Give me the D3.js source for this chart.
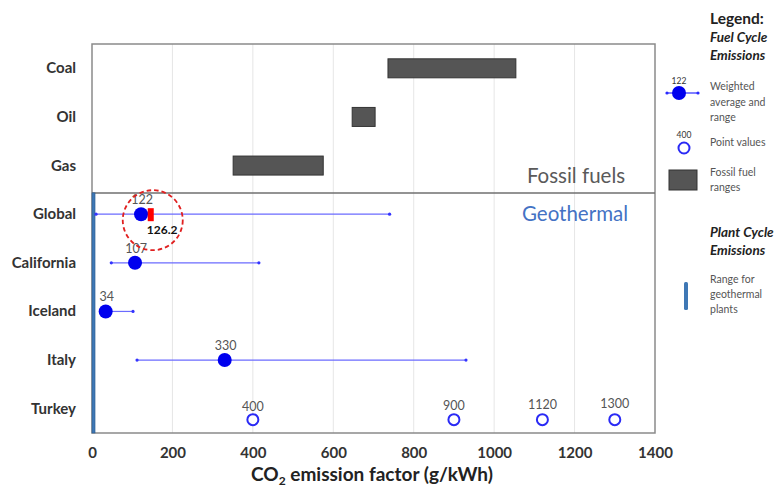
<!DOCTYPE html>
<html>
<head>
<meta charset="utf-8">
<script src="https://cdn.jsdelivr.net/npm/d3@7"></script>
<style>
body { margin: 0; background: #fff; }
svg { font-family: Lato, "Open Sans", sans-serif; }
</style>
</head>
<body>
<svg id="chart" width="775" height="488"></svg>
<script>
const categories = ['Coal', 'Oil', 'Gas', 'Global', 'California', 'Iceland', 'Italy', 'Turkey']
const fossilNames = ['Coal', 'Oil', 'Gas']
const fossilLow = [736, 647, 351]
const fossilHigh = [1054, 704, 575]
const geoNames = ['Global', 'California', 'Iceland', 'Italy']
const geoAvg = [122, 107, 34, 330]
const geoMin = [10, 48, 34, 112]
const geoMax = [740, 415, 102, 930]
const turkeyValues = [400, 900, 1120, 1300]
const xTicks = [0, 200, 400, 600, 800, 1000, 1200, 1400]
const plantRange = [0, 10]
const highlight = 126.2

const svg = d3.select('#chart')
const plotLeft = 92, plotRight = 655, plotTop = 44, plotBottom = 433

const x = d3.scaleLinear().domain([0, 1400]).range([plotLeft, plotRight])
const y = d3.scaleBand().domain(categories).range([plotTop, plotBottom])
const yc = d => y(d) + y.bandwidth() / 2

// grid
svg.append('g')
	.selectAll('line')
	.data(xTicks.slice(1, -1))
	.enter()
	.append('line')
	.attr('x1', d => x(d)).attr('x2', d => x(d))
	.attr('y1', plotTop).attr('y2', plotBottom)
	.attr('stroke', '#e6e6e6')

// frame
svg.append('rect')
	.attr('x', plotLeft).attr('y', plotTop)
	.attr('width', plotRight - plotLeft).attr('height', plotBottom - plotTop)
	.attr('fill', 'none').attr('stroke', '#8a8a8a').attr('stroke-width', 1.5)

// separator between fossil and geothermal
const sepY = y('Global') + 3
svg.append('line')
	.attr('x1', plotLeft).attr('x2', plotRight)
	.attr('y1', sepY).attr('y2', sepY)
	.attr('stroke', '#6f6f6f').attr('stroke-width', 1.5)

// geothermal plant range bar
svg.append('rect')
	.attr('x', x(plantRange[0])).attr('y', sepY)
	.attr('width', x(plantRange[1]) - x(plantRange[0]) - 1)
	.attr('height', plotBottom - sepY)
	.attr('fill', '#3f78b5').attr('stroke', '#2a5a8e').attr('stroke-width', 0.6)

// fossil bars
svg.append('g')
	.selectAll('rect')
	.data(fossilNames)
	.enter()
	.append('rect')
	.attr('x', (d, i) => x(fossilLow[i]))
	.attr('y', d => yc(d) - 9.5)
	.attr('width', (d, i) => x(fossilHigh[i]) - x(fossilLow[i]))
	.attr('height', 19)
	.attr('fill', '#555').attr('stroke', '#333').attr('stroke-width', 1)

// section labels
svg.append('text').attr('x', 576).attr('y', 183).attr('text-anchor', 'middle')
	.attr('font-size', 20.5).attr('fill', '#5a5a5a').text('Fossil fuels')
svg.append('text').attr('x', 575).attr('y', 221).attr('text-anchor', 'middle')
	.attr('font-size', 20.5).attr('fill', '#4472c4').text('Geothermal')

// geothermal ranges
const geo = svg.append('g')
geo.selectAll('line')
	.data(geoNames)
	.enter()
	.append('line')
	.attr('x1', (d, i) => x(geoMin[i])).attr('x2', (d, i) => x(geoMax[i]))
	.attr('y1', d => yc(d)).attr('y2', d => yc(d))
	.attr('stroke', '#6b6bff').attr('stroke-width', 1.2)
geo.selectAll('circle.end')
	.data(geoNames.flatMap((d, i) => [[d, geoMin[i]], [d, geoMax[i]]]))
	.enter()
	.append('circle')
	.attr('class', 'end')
	.attr('cx', d => x(d[1])).attr('cy', d => yc(d[0]))
	.attr('r', 1.6).attr('fill', '#3434ff')

// red highlight mark
svg.append('rect')
	.attr('x', x(highlight) + 5).attr('y', yc('Global') - 6)
	.attr('width', 6).attr('height', 13)
	.attr('fill', '#f00')

geo.selectAll('circle.avg')
	.data(geoNames)
	.enter()
	.append('circle')
	.attr('class', 'avg')
	.attr('cx', (d, i) => x(geoAvg[i])).attr('cy', d => yc(d))
	.attr('r', 7).attr('fill', '#0000ee')
geo.selectAll('text')
	.data(geoNames)
	.enter()
	.append('text')
	.attr('x', (d, i) => x(geoAvg[i]) + 1).attr('y', d => yc(d) - 10)
	.attr('text-anchor', 'middle').attr('font-size', 12.5).attr('fill', '#555')
	.text((d, i) => geoAvg[i])

svg.append('text')
	.attr('x', x(highlight) + 4).attr('y', yc('Global') + 20)
	.attr('font-size', 12).attr('font-weight', 'bold').attr('fill', '#111')
	.text(highlight)
svg.append('circle')
	.attr('cx', x(highlight) + 10).attr('cy', yc('Global') + 6)
	.attr('r', 30).attr('fill', 'none')
	.attr('stroke', '#e02020').attr('stroke-width', 1.8).attr('stroke-dasharray', '4.5 3')

// turkey points
const tk = svg.append('g')
tk.selectAll('circle')
	.data(turkeyValues)
	.enter()
	.append('circle')
	.attr('cx', d => x(d)).attr('cy', yc('Turkey') + 11)
	.attr('r', 5.5).attr('fill', '#fff').attr('stroke', '#2a2af5').attr('stroke-width', 2)
tk.selectAll('text')
	.data(turkeyValues)
	.enter()
	.append('text')
	.attr('x', d => x(d)).attr('y', (d, i) => yc('Turkey') + 2 - i * 1)
	.attr('text-anchor', 'middle').attr('font-size', 12.5).attr('fill', '#555')
	.text(d => d)

// y labels
svg.append('g')
	.selectAll('text')
	.data(categories)
	.enter()
	.append('text')
	.attr('x', 76).attr('y', d => yc(d) + 5)
	.attr('text-anchor', 'end').attr('font-size', 15).attr('font-weight', 'bold').attr('fill', '#333')
	.text(d => d)

// x axis
const xAxis = svg.append('g')
	.attr('transform', `translate(0,${plotBottom})`)
	.call(d3.axisBottom(x).tickValues(xTicks).tickFormat(d3.format('d')).tickSize(0).tickPadding(14))
xAxis.select('.domain').remove()
xAxis.selectAll('text')
	.attr('font-family', 'Lato, sans-serif').attr('font-size', 15)
	.attr('font-weight', 'bold').attr('fill', '#333')

const title = svg.append('text')
	.attr('x', 372).attr('y', 481).attr('text-anchor', 'middle')
	.attr('font-size', 19).attr('font-weight', 'bold').attr('fill', '#222')
title.append('tspan').text('CO')
title.append('tspan').attr('font-size', 12).attr('dy', 4).text('2')
title.append('tspan').attr('dy', -4).text(' emission factor (g/kWh)')

// legend
const lg = svg.append('g')
const lx = 710
lg.append('text').attr('x', lx).attr('y', 24).attr('font-size', 15.5)
	.attr('font-weight', 'bold').attr('fill', '#222').text('Legend:')
lg.append('text').attr('x', lx).attr('y', 42).attr('font-size', 13.5)
	.attr('font-weight', 'bold').attr('font-style', 'italic').attr('fill', '#222').text('Fuel Cycle')
lg.append('text').attr('x', lx).attr('y', 60).attr('font-size', 13.5)
	.attr('font-weight', 'bold').attr('font-style', 'italic').attr('fill', '#222').text('Emissions')

lg.append('line').attr('x1', 667).attr('x2', 698).attr('y1', 93).attr('y2', 93)
	.attr('stroke', '#2a2aff').attr('stroke-width', 1.2)
lg.append('circle').attr('cx', 667).attr('cy', 93).attr('r', 1.6).attr('fill', '#2a2aff')
lg.append('circle').attr('cx', 698).attr('cy', 93).attr('r', 1.6).attr('fill', '#2a2aff')
lg.append('circle').attr('cx', 679).attr('cy', 93).attr('r', 7).attr('fill', '#0000ee')
lg.append('text').attr('x', 679).attr('y', 84).attr('text-anchor', 'middle')
	.attr('font-size', 8.5).attr('fill', '#333').text('122')

lg.append('circle').attr('cx', 684).attr('cy', 148).attr('r', 5.5)
	.attr('fill', '#fff').attr('stroke', '#2a2af5').attr('stroke-width', 2)
lg.append('text').attr('x', 684).attr('y', 138).attr('text-anchor', 'middle')
	.attr('font-size', 8.5).attr('fill', '#333').text('400')

lg.append('rect').attr('x', 669).attr('y', 170).attr('width', 28).attr('height', 20)
	.attr('fill', '#555').attr('stroke', '#333')

lg.append('rect').attr('x', 684).attr('y', 282).attr('width', 4).attr('height', 28)
	.attr('rx', 1.5).attr('fill', '#3f78b5')

lg.append('text').attr('x', lx).attr('y', 237).attr('font-size', 13.5)
	.attr('font-weight', 'bold').attr('font-style', 'italic').attr('fill', '#222').text('Plant Cycle')
lg.append('text').attr('x', lx).attr('y', 255).attr('font-size', 13.5)
	.attr('font-weight', 'bold').attr('font-style', 'italic').attr('fill', '#222').text('Emissions')

const legendText = [
	[90, 'Weighted'], [106, 'average and'], [121, 'range'],
	[146, 'Point values'],
	[176, 'Fossil fuel'], [191, 'ranges'],
	[283, 'Range for'], [298, 'geothermal'], [313, 'plants'],
]
lg.selectAll('text.small')
	.data(legendText)
	.enter()
	.append('text')
	.attr('class', 'small')
	.attr('x', lx).attr('y', d => d[0])
	.attr('font-size', 10.5).attr('fill', '#555')
	.text(d => d[1])
</script>
</body>
</html>
